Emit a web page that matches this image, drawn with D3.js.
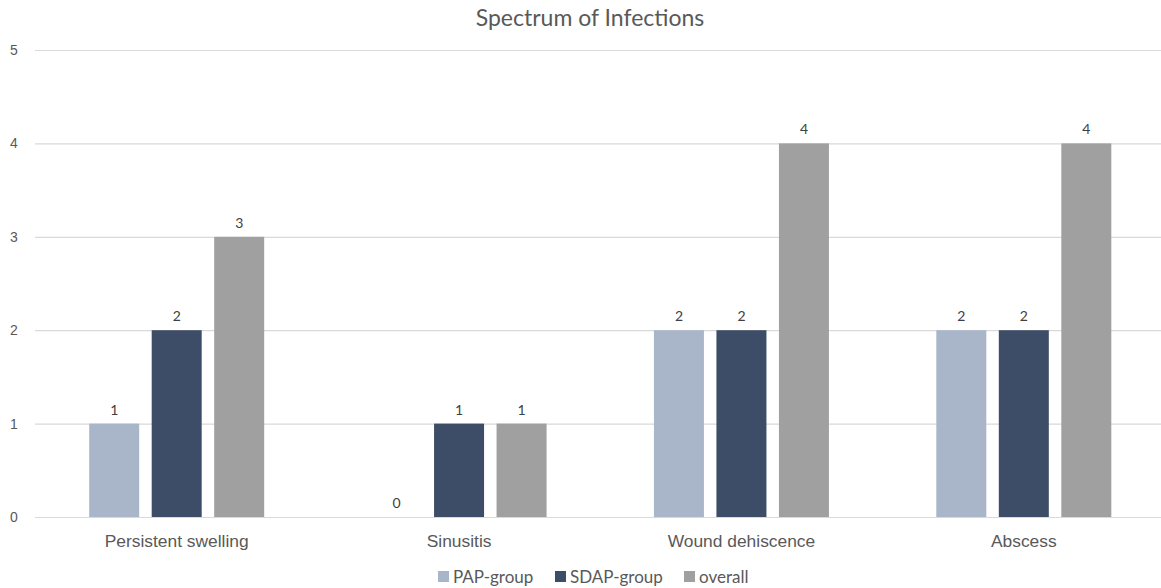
<!DOCTYPE html>
<html>
<head>
<meta charset="utf-8">
<script src="https://cdn.jsdelivr.net/npm/d3@7"></script>
<style>
  html, body { margin: 0; padding: 0; background: #fff; }
  svg { display: block; font-family: Lato, "Open Sans", sans-serif; }
</style>
</head>
<body>
<svg id="chart" width="1161" height="588"></svg>
<script>
const categories = ["Persistent swelling", "Sinusitis", "Wound dehiscence", "Abscess"];
const seriesNames = ["PAP-group", "SDAP-group", "overall"];
const papValues = [1, 0, 2, 2];
const sdapValues = [2, 1, 2, 2];
const overallValues = [3, 1, 4, 4];
const yTicks = [0, 1, 2, 3, 4, 5];
const colors = ["#a9b6ca", "#3d4c67", "#a0a0a0"];

const seriesValues = [papValues, sdapValues, overallValues];
const rows = categories.map((c, i) => ({
  category: c,
  values: seriesNames.map((s, j) => ({ series: s, value: seriesValues[j][i] }))
}));

const svg = d3.select("#chart");
const W = 1161, H = 588;
const plotLeft = 35, plotRight = 1165, plotTop = 50, plotBottom = 517;

const x = d3.scaleBand().domain(categories).range([plotLeft + 0.5, plotRight]);
const inner = d3.scaleBand().domain(seriesNames).range([-87.5, 87.5]).paddingInner(0.2).paddingOuter(0);
const y = d3.scaleLinear().domain([0, 5]).range([plotBottom, plotTop]);

// title
svg.append("text")
  .attr("x", 590).attr("y", 26)
  .attr("text-anchor", "middle")
  .attr("font-size", 23).attr("fill", "#595959")
  .text("Spectrum of Infections");

// gridlines and y tick labels
const yAxis = d3.axisLeft(y).tickValues(yTicks).tickFormat(d3.format("d"))
  .tickSize(-(plotRight - plotLeft));
const gy = svg.append("g").attr("transform", `translate(${plotLeft},0)`).call(yAxis);
gy.select(".domain").remove();
gy.selectAll(".tick line").attr("stroke", "#d9d9d9").attr("stroke-width", 1.2);
gy.selectAll(".tick text").attr("fill", "#595959").attr("font-size", 14)
  .attr("x", -25).attr("text-anchor", "start");

// bars
const groups = svg.append("g").selectAll("g").data(rows).join("g")
  .attr("transform", d => `translate(${x(d.category) + x.bandwidth() / 2},0)`);

groups.selectAll("rect").data(d => d.values).join("rect")
  .attr("x", d => inner(d.series))
  .attr("width", inner.bandwidth())
  .attr("y", d => y(d.value))
  .attr("height", d => y(0) - y(d.value))
  .attr("fill", (d, i) => colors[i]);

groups.selectAll("text.val").data(d => d.values).join("text")
  .attr("class", "val")
  .attr("x", d => inner(d.series) + inner.bandwidth() / 2)
  .attr("y", d => y(d.value) - 9)
  .attr("text-anchor", "middle")
  .attr("font-size", 14).attr("fill", "#404040")
  .text(d => d.value);

// category labels
const gx = svg.append("g").attr("transform", `translate(0,${y(0)})`)
  .call(d3.axisBottom(x).tickSize(0).tickPadding(18));
gx.select(".domain").remove();
gx.selectAll(".tick text").attr("font-size", 17.4).attr("fill", "#595959");

// legend
const legendItems = [
  { name: seriesNames[0], x: 438 },
  { name: seriesNames[1], x: 555 },
  { name: seriesNames[2], x: 684 }
];
const lg = svg.append("g").selectAll("g").data(legendItems).join("g")
  .attr("transform", d => `translate(${d.x},576)`);
lg.append("rect").attr("x", 0).attr("y", -5).attr("width", 11).attr("height", 11)
  .attr("fill", (d, i) => colors[i]);
lg.append("text").attr("x", 15).attr("y", 6.5).attr("font-size", 17).attr("fill", "#595959")
  .text(d => d.name);
</script>
</body>
</html>
